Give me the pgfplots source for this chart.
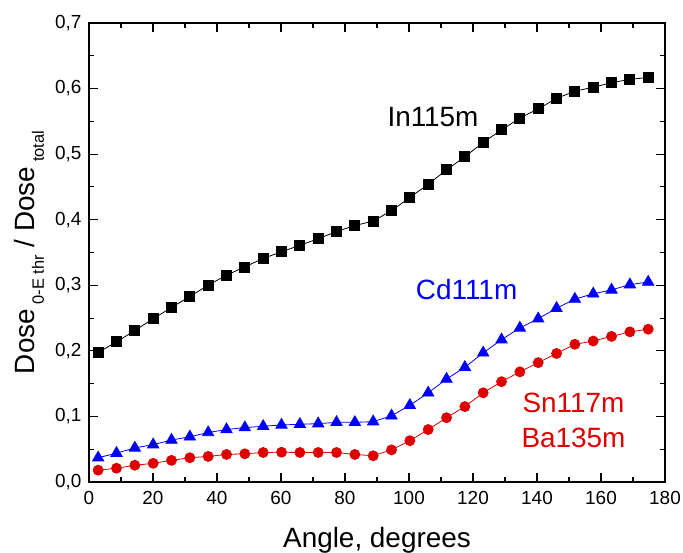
\documentclass[border=0pt]{standalone}
\usepackage{fontspec}
\setmainfont{Liberation Sans}
\usepackage{pgfplots}
\usepackage{pgfplotstable}
\pgfplotsset{compat=1.18}

\definecolor{cdblue}{RGB}{0,0,255}
\definecolor{snred}{RGB}{222,0,0}

% angle (deg), dose fraction below threshold for each nuclide
\pgfplotstableread{
angle     in115m  cd111m  sn117m
2.8648    0.1975  0.037   0.018
8.5944    0.2137  0.044   0.021
14.3239   0.231   0.052   0.0255
20.0535   0.249   0.057   0.0285
25.7831   0.266   0.064   0.033
31.5127   0.283   0.069   0.037
37.2423   0.300   0.0755  0.039
42.9718   0.3155  0.080   0.042
48.7014   0.328   0.083   0.043
54.4310   0.341   0.085   0.045
60.1606   0.351   0.087   0.0454
65.8901   0.361   0.088   0.045
71.6197   0.371   0.089   0.045
77.3493   0.382   0.091   0.045
83.0789   0.391   0.091   0.042
88.8085   0.398   0.092   0.040
94.5380   0.4137  0.101   0.049
100.2676  0.434   0.117   0.063
105.9972  0.454   0.136   0.080
111.7268  0.476   0.157   0.098
117.4563  0.496   0.175   0.115
123.1859  0.518   0.197   0.136
128.9155  0.537   0.217   0.153
134.6451  0.555   0.235   0.168
140.3747  0.569   0.249   0.182
146.1042  0.585   0.265   0.196
151.8338  0.596   0.279   0.210
157.5634  0.602   0.287   0.215
163.2930  0.609   0.293   0.222
169.0225  0.614   0.301   0.229
174.7521  0.617   0.305   0.233
}\dosedata

\begin{document}
\begin{tikzpicture}
\begin{axis}[
  name=ax,
  scale only axis,
  width=576bp, height=459bp,
  xmin=0, xmax=180, ymin=0, ymax=0.7,
  xtick={0,20,...,180},
  ytick={0,0.1,0.2,0.3,0.4,0.5,0.6,0.7},
  minor x tick num=1,
  minor y tick num=1,
  tick align=inside,
  major tick length=9bp,
  minor tick length=5bp,
  axis line style={line width=1.3bp},
  every tick/.append style={black, line width=1.1bp},
  /pgf/number format/assume math mode=true,
  ticklabel style={font=\fontsize{19}{22}\selectfont},
  yticklabel style={xshift=-4bp, /pgf/number format/.cd, fixed, fixed zerofill, precision=1, use comma},
  xticklabel style={yshift=-6bp, /pgf/number format/.cd, fixed, precision=0},
  label style={font=\fontsize{28}{31}\selectfont},
  xlabel={Angle, degrees},
  xlabel style={at={(axis description cs:0.5,0)}, anchor=base, yshift=-65bp},
  ylabel={Dose\,\raisebox{-9bp}{\fontsize{16.5}{16.5}\selectfont 0-E thr} / Dose\,\raisebox{-9bp}{\fontsize{16.5}{16.5}\selectfont total}},
  ylabel style={at={(axis description cs:-0.09375,0.5)}, anchor=base},
  clip=false,
]
\addplot[black, line width=0.8bp, mark=square*, mark size=5bp,
  mark options={solid, fill=black}] table[x=angle, y=in115m] {\dosedata};
\addplot[cdblue, line width=0.8bp, mark=triangle*, mark size=6.5bp,
  mark options={solid, fill=cdblue}] table[x=angle, y=cd111m] {\dosedata};
\addplot[snred, line width=0.8bp, mark=*, mark size=5bp,
  mark options={solid, fill=snred}] table[x=angle, y=sn117m] {\dosedata};

\node[font=\fontsize{28}{31}\selectfont, black] at (axis cs:107.5,0.557) {In115m};
\node[font=\fontsize{28}{31}\selectfont, cdblue] at (axis cs:118,0.293) {Cd111m};
\node[font=\fontsize{28}{31}\selectfont, snred] at (axis cs:151.4,0.121) {Sn117m};
\node[font=\fontsize{28}{31}\selectfont, snred] at (axis cs:151.4,0.0675) {Ba135m};
\end{axis}
\pgfresetboundingbox
\path[use as bounding box] ([xshift=-89bp,yshift=-71bp]ax.south west)
  rectangle ([xshift=18bp,yshift=23bp]ax.north east);
\end{tikzpicture}
\end{document}
